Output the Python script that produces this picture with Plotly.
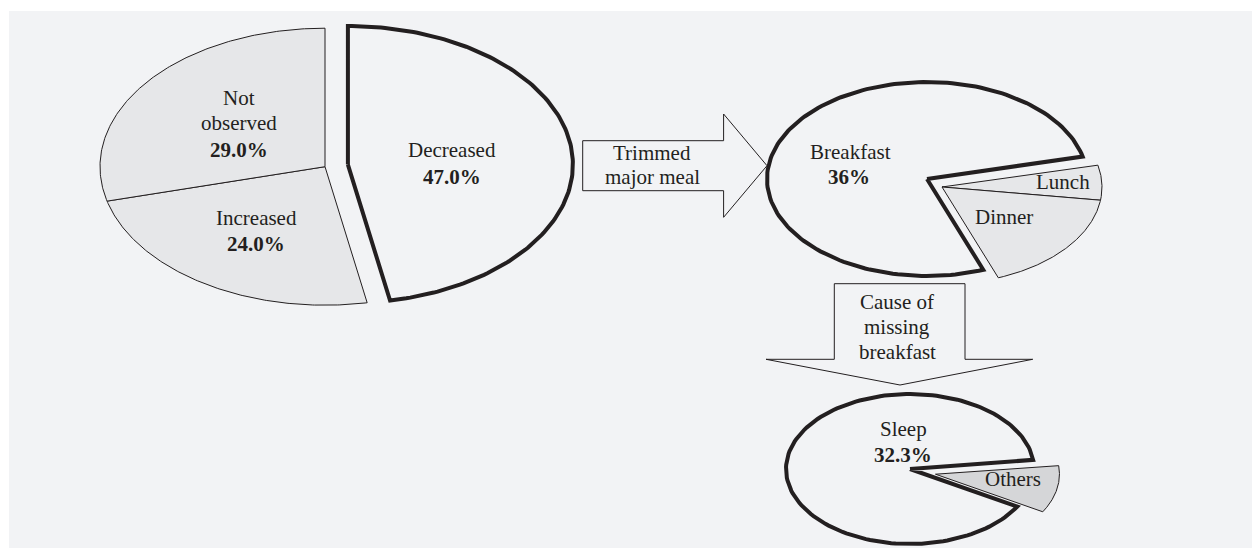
import math
import plotly.graph_objects as go

# ---------------- data ----------------
change_labels = ["Decreased", "Increased", "Not observed"]
change_values = [47.0, 24.0, 29.0]
change_text = ["47.0%", "24.0%", "29.0%"]

meal_labels = ["Lunch", "Dinner", "Breakfast"]
meal_values = [5.9, 17.1, 77.0]          # slice sizes as drawn
breakfast_text = "36%"

cause_labels = ["Others", "Sleep"]
cause_values = [10.3, 89.7]              # slice sizes as drawn
sleep_text = "32.3%"

arrow1_text = ["Trimmed", "major meal"]
arrow2_text = ["Cause of", "missing", "breakfast"]

# ---------------- styles / layout ----------------
W, H = 1252, 548
BG = "#f2f3f5"
GRAY = "#e6e7e9"
DARK_GRAY = "#d5d6d8"
INK = "#231f20"
FONT = "Liberation Serif"
FS = 21


def arc_points(cx, cy, a, b, t1, t2, n=160):
    xs, ys = [], []
    for i in range(n + 1):
        t = math.radians(t1 + (t2 - t1) * i / n)
        xs.append(cx + a * math.sin(t))
        ys.append(cy - b * math.cos(t))
    return xs, ys


def pie_traces(values, cx, cy, a, b, start, styles, explode):
    """values drawn clockwise from `start` degrees (0 = 12 o'clock).
    explode: list of (indices, distance) groups."""
    total = sum(values)
    bounds = []
    t = start
    for v in values:
        span = 360.0 * v / total
        bounds.append((t, t + span))
        t += span
    offsets = [(0.0, 0.0)] * len(values)
    for idx, dist in explode:
        t1 = bounds[idx[0]][0]
        t2 = bounds[idx[-1]][1]
        mid = math.radians((t1 + t2) / 2)
        for i in idx:
            offsets[i] = (dist * math.sin(mid), -dist * math.cos(mid))
    traces = []
    for i, (t1, t2) in enumerate(bounds):
        ox, oy = offsets[i]
        ax, ay = arc_points(cx + ox, cy + oy, a, b, t1, t2)
        xs = [cx + ox] + ax + [cx + ox]
        ys = [cy + oy] + ay + [cy + oy]
        fill, lw = styles[i]
        traces.append(go.Scatter(
            x=xs, y=ys, mode="lines", fill="toself", fillcolor=fill,
            line=dict(color=INK, width=lw), hoverinfo="skip",
            showlegend=False))
    return traces


fig = go.Figure()

# Pie 1: change in meal habits
for tr in pie_traces(change_values, 325, 166.7, 225, 138.5, 0,
                     [(BG, 4), (GRAY, 1), (GRAY, 1)], [([0], 23)]):
    fig.add_trace(tr)

# Pie 2: trimmed meal
for tr in pie_traces(meal_values, 927, 179, 160, 97, 76.6,
                     [(GRAY, 1), (GRAY, 1), (BG, 4)], [([0, 1], 17)]):
    fig.add_trace(tr)

# Pie 3: cause of missing breakfast
for tr in pie_traces(cause_values, 910, 469, 124, 75, 83,
                     [(DARK_GRAY, 1), (BG, 4)], [([0], 26)]):
    fig.add_trace(tr)

# ---------------- arrows (decorative shapes) ----------------
def poly(pts):
    return "M " + " L ".join(f"{x},{y}" for x, y in pts) + " Z"

arrow1 = [(582.7, 140.7), (723.6, 140.7), (723.6, 114), (767, 165.7),
          (723.6, 217.3), (723.6, 190.7), (582.7, 190.7)]
arrow2 = [(834.3, 283.7), (965, 283.7), (965, 359.3), (1032.7, 359.3),
          (900, 385), (766, 359.3), (834.3, 359.3)]

shapes = [
    # white frame strips on top and left; the rest of the page is light gray
    dict(type="rect", xref="paper", yref="paper", x0=0, x1=1, y0=1 - 11 / H, y1=1,
         fillcolor="white", line=dict(width=0), layer="below"),
    dict(type="rect", xref="paper", yref="paper", x0=0, x1=9 / W, y0=0, y1=1,
         fillcolor="white", line=dict(width=0), layer="below"),
    dict(type="path", xref="x", yref="y", path=poly(arrow1),
         fillcolor=BG, line=dict(color=INK, width=1), layer="below"),
    dict(type="path", xref="x", yref="y", path=poly(arrow2),
         fillcolor=BG, line=dict(color=INK, width=1), layer="below"),
]

# ---------------- text ----------------
ann = []

def txt(x, y, s, bold=False):
    ann.append(dict(x=x, y=y, xref="x", yref="y", text=f"<b>{s}</b>" if bold else s,
                    showarrow=False, xanchor="center", yanchor="middle",
                    font=dict(family=FONT, size=FS, color=INK)))

txt(239, 98.3, change_labels[2].split(" ")[0])
txt(239, 123.3, change_labels[2].split(" ")[1])
txt(239, 150, change_text[2], True)
txt(256.7, 217.7, change_labels[1])
txt(255.7, 244.3, change_text[1], True)
txt(451.7, 150, change_labels[0])
txt(451.7, 176.7, change_text[0], True)

txt(652, 152.7, arrow1_text[0])
txt(652, 177.3, arrow1_text[1])

txt(850, 151.7, meal_labels[2])
txt(849, 177, breakfast_text, True)
txt(1063, 181.7, meal_labels[0])
txt(1004, 216.7, meal_labels[1])

txt(897, 301.7, arrow2_text[0])
txt(897, 327.3, arrow2_text[1])
txt(897, 351.7, arrow2_text[2])

txt(903, 429, cause_labels[1])
txt(903, 455, sleep_text, True)
txt(1013, 479, cause_labels[0])

fig.update_layout(
    width=W, height=H, margin=dict(l=0, r=0, t=0, b=0),
    paper_bgcolor=BG, plot_bgcolor="rgba(0,0,0,0)",
    xaxis=dict(range=[0, W], visible=False, fixedrange=True),
    yaxis=dict(range=[H, 0], visible=False, fixedrange=True),
    shapes=shapes, annotations=ann, showlegend=False,
)

fig.write_html("out.html", config={"displayModeBar": False})
